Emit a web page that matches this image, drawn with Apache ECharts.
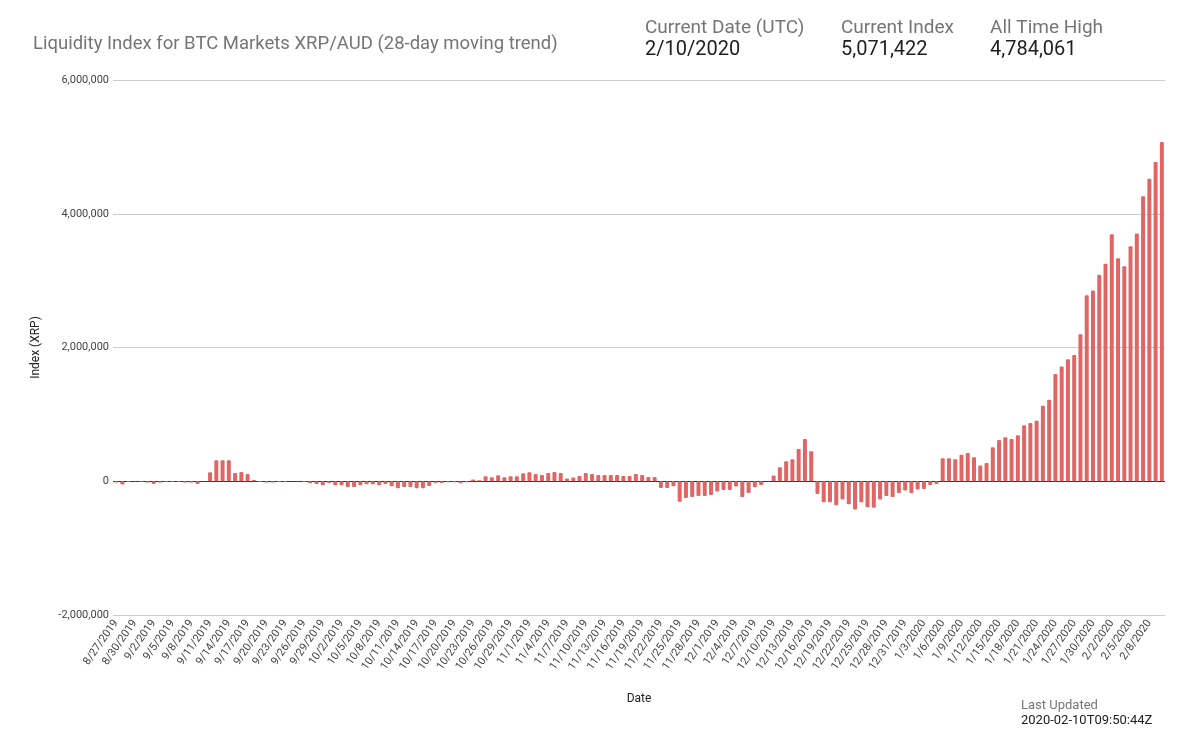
<!DOCTYPE html>
<html>
<head>
<meta charset="utf-8">
<title>Liquidity Index XRP/AUD</title>
<script src="https://cdn.jsdelivr.net/npm/echarts@6/dist/echarts.min.js"></script>
<style>
  html, body { margin: 0; padding: 0; background: #fff; }
  #chart { width: 1199px; height: 738px; }
</style>
</head>
<body>
<div id="chart"></div>
<script>
// 28-day moving liquidity index, one value per day, split by month
var aug = [-20000, -50000, -10000, -5000, -10000];
var sep = [-20000, -40000, -20000, -10000, -10000, -10000, -20000, -20000, -40000, -5000,
	134000, 313000, 313000, 313000, 124000, 139000, 109000, 20000, -10000, -20000,
	-20000, -10000, -10000, -5000, -3000, -10000, -30000, -40000, -60000, -25000];
var oct = [-60000, -60000, -85000, -85000, -60000, -45000, -45000, -60000, -40000, -75000,
	-105000, -85000, -85000, -105000, -105000, -70000, -25000, -25000, -15000, -15000,
	-30000, -15000, 25000, 15000, 75000, 60000, 90000, 60000, 75000, 75000, 120000];
var nov = [134000, 110000, 95000, 125000, 140000, 125000, 40000, 55000, 80000, 125000,
	110000, 95000, 95000, 95000, 95000, 80000, 80000, 110000, 95000, 65000,
	65000, -100000, -100000, -75000, -305000, -250000, -235000, -220000, -220000, -205000];
var dec = [-155000, -130000, -130000, -80000, -235000, -175000, -90000, -55000, -5000, 85000,
	209000, 300000, 328000, 483000, 632000, 448000, -190000, -313000, -313000, -358000,
	-274000, -343000, -423000, -313000, -388000, -398000, -274000, -219000, -234000, -174000, -139000];
var jan = [-174000, -124000, -115000, -55000, -40000, 343000, 343000, 328000, 398000, 423000,
	358000, 234000, 274000, 507000, 617000, 657000, 632000, 687000, 836000, 871000,
	906000, 1130000, 1219000, 1602000, 1716000, 1826000, 1886000, 2199000, 2782000, 2853000, 3088000];
var feb = [3252000, 3695000, 3336000, 3216000, 3515000, 3705000, 4263000, 4523000, 4772000, 5071422];

var indexValues = aug.concat(sep, oct, nov, dec, jan, feb);

// 日期 8/27/2019 起，每天一个
var startDate = new Date(2019, 7, 27);
var dates = [];
for (var i = 0; i < indexValues.length; i++) {
	var d = new Date(startDate.getFullYear(), startDate.getMonth(), startDate.getDate() + i);
	dates.push((d.getMonth() + 1) + '/' + d.getDate() + '/' + d.getFullYear());
}

var yTicks = [-2000000, 0, 2000000, 4000000, 6000000];

var headLabels = ['Current Date (UTC)', 'Current Index', 'All Time High'];
var headValues = ['2/10/2020', '5,071,422', '4,784,061'];
var headX = [640, 836, 985];

var titles = [{
	text: 'Liquidity Index for BTC Markets XRP/AUD (28-day moving trend)',
	left: 28, top: 30,
	textStyle: { fontFamily: 'Roboto', fontSize: 18.5, fontWeight: 'normal', color: '#757575' }
}];
for (var k = 0; k < headLabels.length; k++) {
	titles.push({
		text: headLabels[k],
		subtext: headValues[k],
		left: headX[k], top: 14,
		itemGap: 2,
		textStyle: { fontFamily: 'Roboto', fontSize: 19, fontWeight: 'normal', color: '#757575' },
		subtextStyle: { fontFamily: 'Roboto', fontSize: 20, color: '#212121' }
	});
}
titles.push({
	text: 'Last Updated',
	subtext: '2020-02-10T09:50:44Z',
	left: 1016, top: 694,
	itemGap: 2,
	textStyle: { fontFamily: 'Roboto', fontSize: 13, fontWeight: 'normal', color: '#757575' },
	subtextStyle: { fontFamily: 'Roboto', fontSize: 13, color: '#212121' }
});

var myChart = echarts.init(document.getElementById('chart'));
var option = {
	animation: false,
	backgroundColor: '#fff',
	title: titles,
	grid: { left: 113, right: 34, top: 80, bottom: 123 },
	xAxis: {
		type: 'category',
		data: dates,
		name: 'Date',
		nameLocation: 'middle',
		nameGap: 78,
		nameTextStyle: { fontFamily: 'Roboto', fontSize: 12, color: '#222' },
		axisLine: { show: false, onZero: false },
		axisTick: { show: false },
		axisLabel: {
			interval: 2,
			rotate: 55,
			margin: 6,
			fontFamily: 'Roboto',
			fontSize: 11,
			color: '#444'
		}
	},
	yAxis: {
		type: 'value',
		min: yTicks[0],
		max: yTicks[yTicks.length - 1],
		interval: 2000000,
		name: 'Index (XRP)',
		nameLocation: 'middle',
		nameGap: 71,
		nameTextStyle: { fontFamily: 'Roboto', fontSize: 12, color: '#222' },
		axisLine: { show: false },
		axisTick: { show: false },
		axisLabel: {
			margin: 4,
			fontFamily: 'Roboto',
			fontSize: 11,
			color: '#444',
			formatter: function (v) { return v.toLocaleString('en-US'); }
		},
		splitLine: {
			lineStyle: { color: ['#cccccc', '#333333', '#cccccc', '#cccccc', '#cccccc'], width: 1 }
		}
	},
	series: [{
		name: 'Index',
		type: 'bar',
		data: indexValues,
		barWidth: 4,
		itemStyle: { color: '#e06666', borderRadius: 1 }
	}]
};
myChart.setOption(option);
</script>
</body>
</html>
